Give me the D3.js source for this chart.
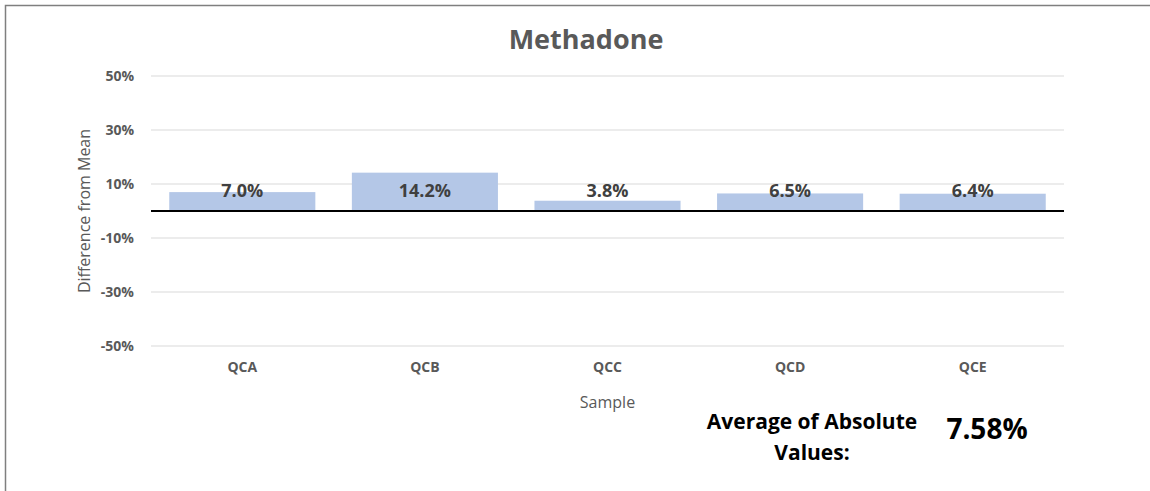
<!DOCTYPE html>
<html>
<head>
<meta charset="utf-8">
<script src="https://cdn.jsdelivr.net/npm/d3@7"></script>
<style>
  body { margin: 0; background: #fff; }
  text { font-family: "Open Sans", Lato, sans-serif; }
</style>
</head>
<body>
<div id="root"></div>
<script>
const categories = ['QCA', 'QCB', 'QCC', 'QCD', 'QCE'];
const diffValues = [0.070, 0.142, 0.038, 0.065, 0.064];
const tickValues = [-0.5, -0.3, -0.1, 0.1, 0.3, 0.5];
const avgAbs = '7.58%';

const width = 1150;
const height = 491;
const plot = {left: 151, right: 1064, top: 76, bottom: 346};

// excel style: plain hyphen for negatives
const pct0 = v => d3.format('.0%')(v).replace('\u2212', '-');
const pct1 = v => d3.format('.1%')(v).replace('\u2212', '-');

const svg = d3.select('#root')
  .append('svg')
  .attr('width', width)
  .attr('height', height);

// frame (only top and left visible in the picture)
svg.append('path')
  .attr('d', `M5.5,${height} V5.5 H${width}`)
  .attr('fill', 'none')
  .attr('stroke', '#7f7f7f')
  .attr('stroke-width', 1.5);

const x = d3.scaleBand()
  .domain(categories)
  .range([plot.left, plot.right])
  .paddingInner(0.2)
  .paddingOuter(0.1);

const y = d3.scaleLinear()
  .domain([-0.5, 0.5])
  .range([plot.bottom, plot.top]);

// gridlines
svg.append('g')
  .selectAll('line')
  .data(tickValues)
  .enter()
  .append('line')
  .attr('x1', plot.left)
  .attr('x2', plot.right)
  .attr('y1', d => y(d))
  .attr('y2', d => y(d))
  .attr('stroke', '#d9d9d9')
  .attr('stroke-width', 1);

// y tick labels
svg.append('g')
  .selectAll('text')
  .data(tickValues)
  .enter()
  .append('text')
  .attr('x', plot.left - 17)
  .attr('y', d => y(d))
  .attr('dy', '0.36em')
  .attr('text-anchor', 'end')
  .attr('font-size', 14)
  .attr('font-weight', 'bold')
  .attr('fill', '#595959')
  .text(pct0);

// bars
svg.append('g')
  .selectAll('rect')
  .data(diffValues)
  .enter()
  .append('rect')
  .attr('x', (d, i) => x(categories[i]))
  .attr('width', x.bandwidth())
  .attr('y', d => y(Math.max(0, d)))
  .attr('height', d => Math.abs(y(d) - y(0)))
  .attr('fill', '#b4c7e7');

// zero line
svg.append('line')
  .attr('x1', plot.left)
  .attr('x2', plot.right)
  .attr('y1', y(0))
  .attr('y2', y(0))
  .attr('stroke', '#000')
  .attr('stroke-width', 2);

// data labels
svg.append('g')
  .selectAll('text')
  .data(diffValues)
  .enter()
  .append('text')
  .attr('x', (d, i) => x(categories[i]) + x.bandwidth() / 2)
  .attr('y', y(0) - 20)
  .attr('dy', '0.36em')
  .attr('text-anchor', 'middle')
  .attr('font-size', 18)
  .attr('font-weight', 'bold')
  .attr('fill', '#404040')
  .text(pct1);

// category labels
svg.append('g')
  .selectAll('text')
  .data(categories)
  .enter()
  .append('text')
  .attr('x', d => x(d) + x.bandwidth() / 2)
  .attr('y', plot.bottom + 21)
  .attr('dy', '0.36em')
  .attr('text-anchor', 'middle')
  .attr('font-size', 14)
  .attr('font-weight', 'bold')
  .attr('fill', '#595959')
  .text(d => d);

// title
svg.append('text')
  .attr('x', 586)
  .attr('y', 39)
  .attr('dy', '0.36em')
  .attr('text-anchor', 'middle')
  .attr('font-size', 27)
  .attr('font-weight', 'bold')
  .attr('fill', '#595959')
  .text('Methadone');

// axis titles
svg.append('text')
  .attr('x', (plot.left + plot.right) / 2)
  .attr('y', 402)
  .attr('dy', '0.36em')
  .attr('text-anchor', 'middle')
  .attr('font-size', 16)
  .attr('fill', '#595959')
  .text('Sample');

svg.append('text')
  .attr('transform', `translate(84,${y(0)}) rotate(-90)`)
  .attr('dy', '0.36em')
  .attr('text-anchor', 'middle')
  .attr('font-size', 16)
  .attr('fill', '#595959')
  .text('Difference from Mean');

// average annotation
const note = svg.append('text')
  .attr('text-anchor', 'middle')
  .attr('font-size', 21)
  .attr('font-weight', 'bold')
  .attr('fill', '#000');
note.append('tspan').attr('x', 812).attr('y', 429).text('Average of Absolute');
note.append('tspan').attr('x', 812).attr('y', 460).text('Values:');

svg.append('text')
  .attr('x', 987)
  .attr('y', 439)
  .attr('text-anchor', 'middle')
  .attr('font-size', 28)
  .attr('font-weight', 'bold')
  .attr('fill', '#000')
  .text(avgAbs);
</script>
</body>
</html>
